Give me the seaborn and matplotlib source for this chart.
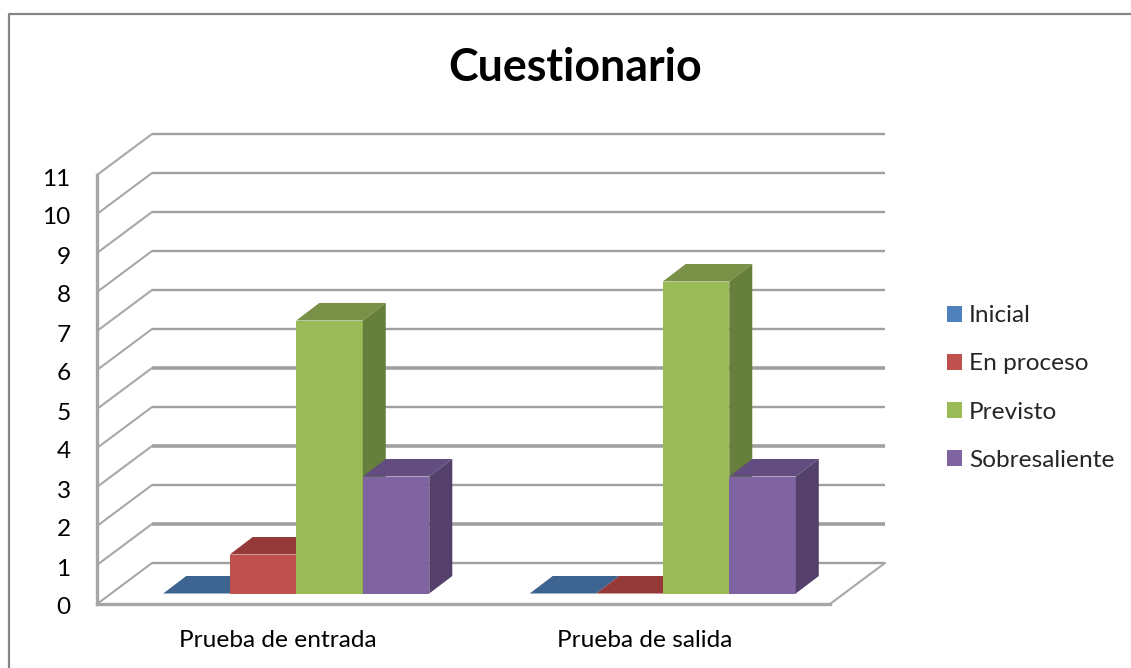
import pandas as pd
import numpy as np
import matplotlib.pyplot as plt
import seaborn as sns
from matplotlib.lines import Line2D
from matplotlib.patches import Polygon
from matplotlib.transforms import Affine2D, IdentityTransform

# datos
pruebas = ['Prueba de entrada', 'Prueba de salida']
niveles = ['Inicial', 'En proceso', 'Previsto', 'Sobresaliente']
inicial = [0, 0]
en_proceso = [1, 0]
previsto = [7, 8]
sobresaliente = [3, 3]
y_ticks = list(range(0, 12))

colores = ['#4F81BD', '#C0504D', '#9BBB59', '#8064A2']
colores_top = ['#3E6491', '#953A38', '#789146', '#634C7F']
colores_lado = ['#334F73', '#7A2F2D', '#66803B', '#54406A']

df = pd.DataFrame({
    'prueba': pruebas * 4,
    'nivel': np.repeat(niveles, 2),
    'valor': inicial + en_proceso + previsto + sobresaliente,
})

W, H = 1131, 668
sns.set_theme(style='white')
plt.rcParams['font.family'] = ['Lato', 'DejaVu Sans']

fig = plt.figure(figsize=(W / 100, H / 100), dpi=100)
ax = fig.add_axes([97 / W, (H - 604) / H, 733 / W, 429 / H])
ax.patch.set_visible(False)

sns.barplot(data=df, x='prueba', y='valor', hue='nivel', hue_order=niveles,
            palette=colores, saturation=1, width=0.726, gap=0, linewidth=0, ax=ax)
ax.set_xlim(-0.5, 1.5)
ax.set_ylim(0, 11)
ax.set_yticks(y_ticks)
ax.set_xlabel('')
ax.set_ylabel('')
ax.tick_params(axis='x', length=0, pad=19, labelsize=17.6, labelcolor='black')
ax.tick_params(axis='y', length=0, pad=19, labelsize=17.6, labelcolor='black')

# pequeno ajuste de las etiquetas
for lab in ax.get_xticklabels():
    lab.set_transform(lab.get_transform() + Affine2D().translate(-2.5, 0))
for lab in ax.get_yticklabels():
    lab.set_transform(lab.get_transform() + Affine2D().translate(0, -2))

for lado in ['top', 'right']:
    ax.spines[lado].set_visible(False)
for lado in ['left', 'bottom']:
    ax.spines[lado].set_color('#A6A6A6')
    ax.spines[lado].set_linewidth(2.4)

# pared y piso (desplazados en pixeles)
fondo = (55, 41)
t_fondo = ax.get_yaxis_transform() + Affine2D().translate(*fondo)
for v in y_ticks:
    lw = 2.6 if v in (1, 3, 5) else 1.7
    ax.plot([0, 1], [v, v], transform=t_fondo, color='#A0A0A0', lw=lw,
            clip_on=False, zorder=1, solid_capstyle='butt')
    p0 = ax.get_yaxis_transform().transform((0, v))
    ax.add_line(Line2D([p0[0], p0[0] + fondo[0]], [p0[1], p0[1] + fondo[1]],
                       transform=IdentityTransform(), color='#A8A8A8', lw=1.5,
                       clip_on=False, zorder=1))
p1 = ax.transAxes.transform((1, 0))
ax.add_line(Line2D([p1[0], p1[0] + fondo[0]], [p1[1], p1[1] + fondo[1]],
                   transform=IdentityTransform(), color='#A8A8A8', lw=1.5,
                   clip_on=False, zorder=1))

# barras 3D: cara frontal de seaborn, tapa y lado agregados
frente = (16, 10.5)
prof = (23, 17.5)
t_frente = ax.transData + Affine2D().translate(*frente)
for i, cont in enumerate(ax.containers):
    for bar in cont:
        x0, x1 = bar.get_x(), bar.get_x() + bar.get_width()
        y1 = bar.get_height()
        bar.set_transform(t_frente)
        bar.set_clip_on(False)
        bar.set_zorder(3 + i)
        (ax0, ay0), (ax1, ay1) = t_frente.transform([(x0, 0), (x1, y1)])
        dx, dy = prof
        tapa = [(ax0, ay1), (ax1, ay1), (ax1 + dx, ay1 + dy), (ax0 + dx, ay1 + dy)]
        ax.add_patch(Polygon(tapa, closed=True, transform=IdentityTransform(),
                             facecolor=colores_top[i], edgecolor='none',
                             clip_on=False, zorder=3 + i))
        if y1 > 0:
            cara = [(ax1, ay0), (ax1 + dx, ay0 + dy), (ax1 + dx, ay1 + dy), (ax1, ay1)]
            ax.add_patch(Polygon(cara, closed=True, transform=IdentityTransform(),
                                 facecolor=colores_lado[i], edgecolor='none',
                                 clip_on=False, zorder=3 + i))

sns.move_legend(ax, 'center left', bbox_to_anchor=(947 / W, (H - 388) / H),
                bbox_transform=fig.transFigure, frameon=False, title=None,
                fontsize=17.6, handlelength=0.61, handleheight=0.61,
                handletextpad=0.29, labelspacing=1.105, borderpad=0, borderaxespad=0)

fig.text(575 / W, (H - 68) / H, 'Cuestionario', ha='center', va='center',
         fontsize=32.2, fontweight='bold', color='black')

# marco del grafico
fig.add_artist(Line2D([9 / W, 9 / W, 1], [0, (H - 14) / H, (H - 14) / H],
                      color='#868686', lw=1.6))

fig.savefig('out.png', dpi=100)
